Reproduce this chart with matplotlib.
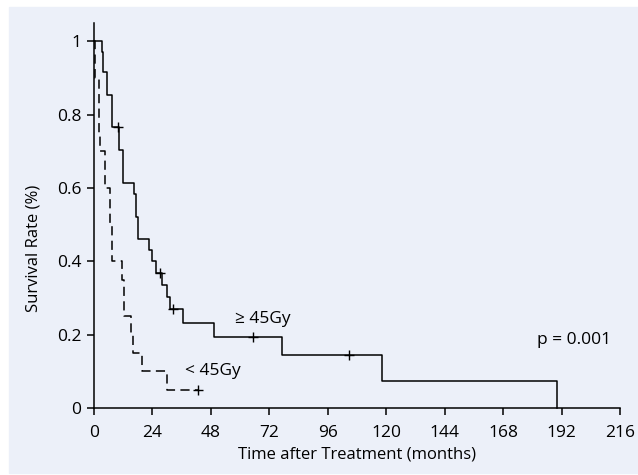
import matplotlib.pyplot as plt
from matplotlib.patches import Rectangle

# Kaplan-Meier steps (months, survival)
t_high = [0, 3.3, 3.8, 5.5, 7.3, 10.4, 12.0, 16.4, 17.4, 18.1, 22.7, 24.0, 25.5,
          27.8, 29.8, 31.2, 36.7, 49.4, 77.1, 118.4, 190.1]
s_high = [1.0, 0.971, 0.916, 0.855, 0.767, 0.705, 0.614, 0.585, 0.52, 0.46, 0.43,
          0.40, 0.369, 0.335, 0.303, 0.269, 0.231, 0.193, 0.144, 0.074, 0.0]
cens_t_high = [10.0, 27.1, 32.3, 65.2, 104.7]
cens_s_high = [0.767, 0.369, 0.269, 0.193, 0.144]

t_low = [0, 0.4, 1.9, 2.6, 4.7, 6.6, 7.2, 11.3, 12.5, 15.3, 16.2, 19.8, 29.8, 42.8]
s_low = [1.0, 0.9, 0.75, 0.70, 0.60, 0.50, 0.40, 0.35, 0.25, 0.20, 0.15, 0.10,
         0.05, 0.05]
cens_t_low = [42.8]
cens_s_low = [0.05]

xticks = [0, 24, 48, 72, 96, 120, 144, 168, 192, 216]
yticks = [0, 0.2, 0.4, 0.6, 0.8, 1.0]
ytick_labels = ['0', '0.2', '0.4', '0.6', '0.8', '1']

plt.rcParams['font.family'] = ['Open Sans', 'DejaVu Sans']
plt.rcParams['font.size'] = 12.5

fig = plt.figure(figsize=(6.38, 4.75), dpi=100)
# light panel behind the chart
fig.patches.append(Rectangle((9 / 638, 2 / 475), 1 - 9 / 638, 466 / 475,
                             transform=fig.transFigure, color='#ecf0f9', zorder=-10))

ax = fig.add_axes([94 / 638, 67 / 475, 526 / 638, 385 / 475])
ax.set_facecolor('none')

ax.step(t_high, s_high, where='post', color='black', lw=1.1, clip_on=False)
ax.step(t_low, s_low, where='post', color='black', lw=1.1, dashes=(6, 3.5),
        clip_on=False)
ax.plot(cens_t_high, cens_s_high, '+', color='black', ms=7, mew=1)
ax.plot(cens_t_low, cens_s_low, '+', color='black', ms=7, mew=1)

ax.text(58, 0.243, '≥ 45Gy', va='center', ha='left')
ax.text(37.5, 0.10, '< 45Gy', va='center', ha='left')
ax.text(182, 0.185, 'p = 0.001', va='center', ha='left')

ax.set_xlim(0, 216)
ax.set_ylim(0, 1.05)
ax.set_xticks(xticks)
ax.set_yticks(yticks)
ax.set_yticklabels(ytick_labels)
for side in ['top', 'right']:
    ax.spines[side].set_visible(False)
ax.spines['left'].set_linewidth(1.1)
ax.spines['bottom'].set_linewidth(1.1)
ax.tick_params(direction='out', length=5, width=1.1)
ax.tick_params(axis='x', pad=7)
ax.tick_params(axis='y', pad=4)

ax.set_xlabel('Time after Treatment (months)', fontsize=12, labelpad=4)
ax.set_ylabel('Survival Rate (%)', fontsize=12)
ax.yaxis.set_label_coords(-0.1, 0.415)

fig.savefig('out.png', dpi=100)
